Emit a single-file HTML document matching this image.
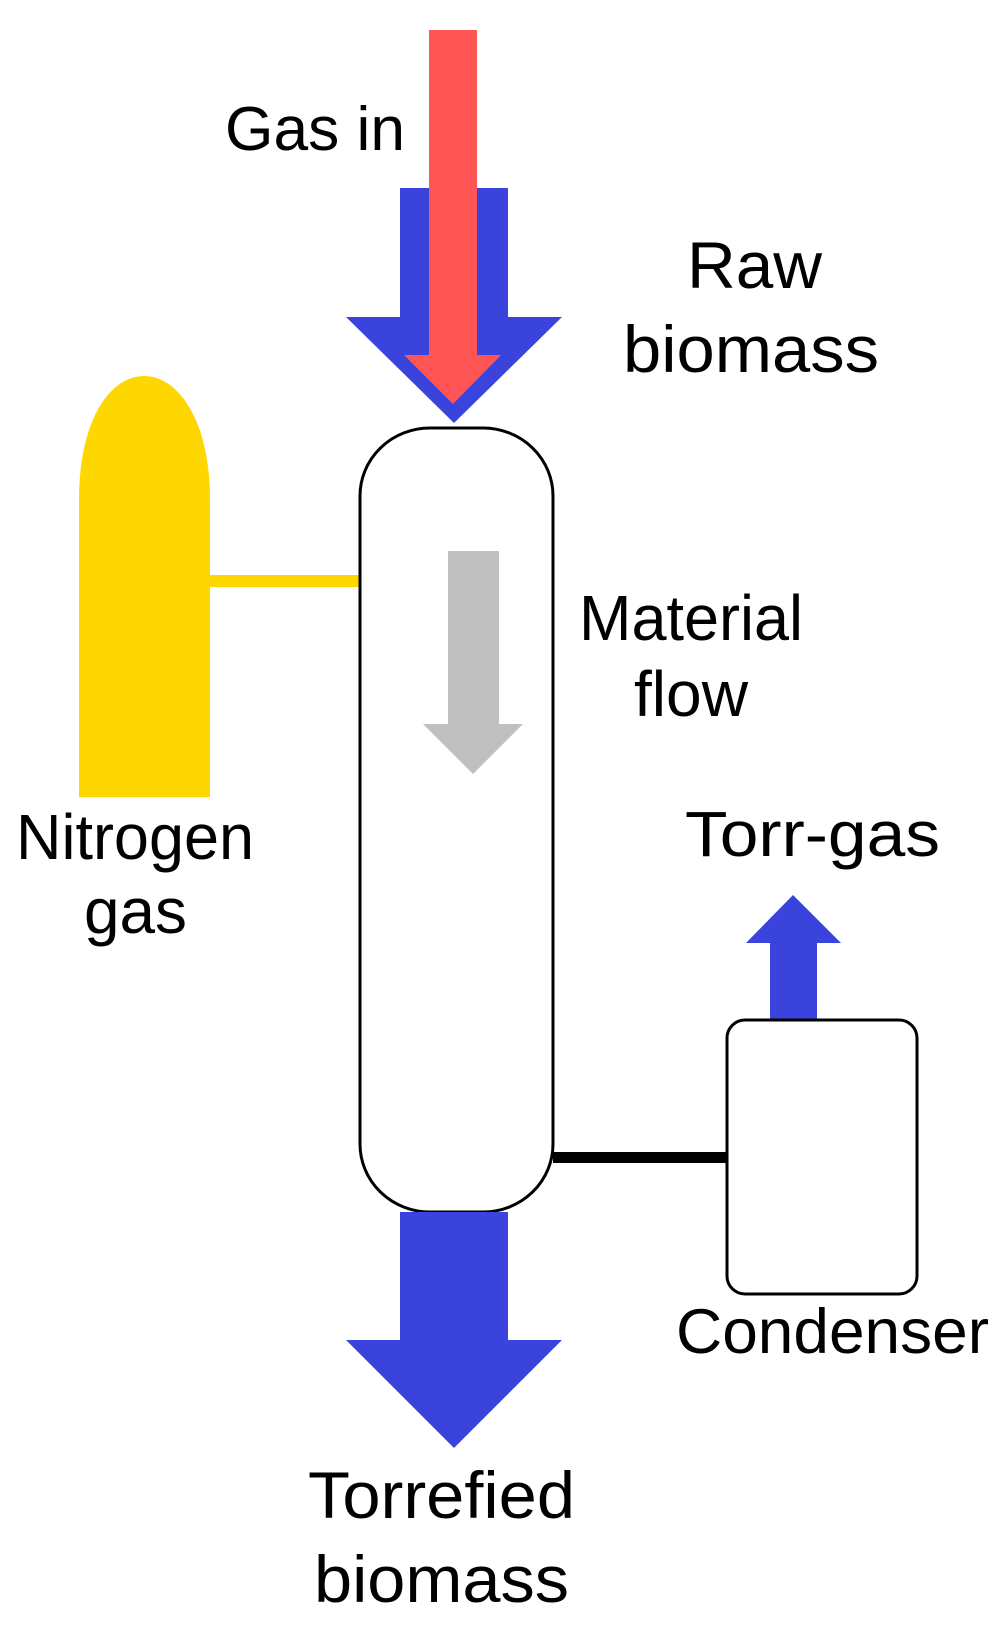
<!DOCTYPE html>
<html><head><meta charset="utf-8"><style>html,body{margin:0;padding:0;background:#fff}svg{display:block}</style></head>
<body>
<svg width="1004" height="1633" viewBox="0 0 1004 1633" xmlns="http://www.w3.org/2000/svg" font-family="Liberation Sans, Arial, sans-serif" font-size="64" fill="#000">
<!-- raw biomass arrow -->
<polygon points="400,188 508,188 508,317 562,317 454,423 346,317 400,317" fill="#3a44dd"/>
<!-- gas in arrow -->
<polygon points="429,30 477,30 477,355 501,355 453,404 404,355 429,355" fill="#ff5555"/>
<!-- nitrogen cylinder -->
<path d="M79,797 L79,500 C79,420 110,376 144,376 C178,376 210,420 210,500 L210,797 Z" fill="#ffd700"/>
<rect x="210" y="575" width="152" height="12" fill="#ffd700"/>
<!-- column -->
<rect x="360" y="428" width="193" height="784" rx="70" ry="68" fill="#fff" stroke="#000" stroke-width="3"/>
<!-- gray arrow -->
<polygon points="448,551 499,551 499,724 523,724 473,774 423,724 448,724" fill="#c0c0c0"/>
<!-- bottom arrow -->
<polygon points="400,1212 508,1212 508,1340 562,1340 454,1448 346,1340 400,1340" fill="#3a44dd"/>
<!-- line to condenser -->
<rect x="553" y="1152" width="175" height="11" fill="#000"/>
<!-- torr arrow -->
<polygon points="770,1022 817,1022 817,943 841,943 793,895 746,943 770,943" fill="#3a44dd"/>
<!-- condenser -->
<rect x="727" y="1020" width="190" height="274" rx="18" fill="#fff" stroke="#000" stroke-width="3"/>
<!-- labels -->
<text x="225" y="150" textLength="180" lengthAdjust="spacingAndGlyphs" font-size="62">Gas in</text>
<text x="687" y="288" textLength="135" lengthAdjust="spacingAndGlyphs" font-size="66">Raw</text>
<text x="623" y="372" textLength="256" lengthAdjust="spacingAndGlyphs" font-size="66">biomass</text>
<text x="579" y="640" textLength="224" lengthAdjust="spacingAndGlyphs" font-size="64">Material</text>
<text x="634" y="716" textLength="114" lengthAdjust="spacingAndGlyphs" font-size="64">flow</text>
<text x="16" y="859" textLength="238" lengthAdjust="spacingAndGlyphs" font-size="64">Nitrogen</text>
<text x="84" y="933" textLength="103" lengthAdjust="spacingAndGlyphs" font-size="64">gas</text>
<text x="685" y="856" textLength="255" lengthAdjust="spacingAndGlyphs" font-size="64">Torr-gas</text>
<text x="676" y="1353" textLength="313" lengthAdjust="spacingAndGlyphs" font-size="63">Condenser</text>
<text x="308" y="1518" textLength="267" lengthAdjust="spacingAndGlyphs" font-size="66">Torrefied</text>
<text x="314" y="1602" textLength="255" lengthAdjust="spacingAndGlyphs" font-size="66">biomass</text>
</svg>
</body></html>
